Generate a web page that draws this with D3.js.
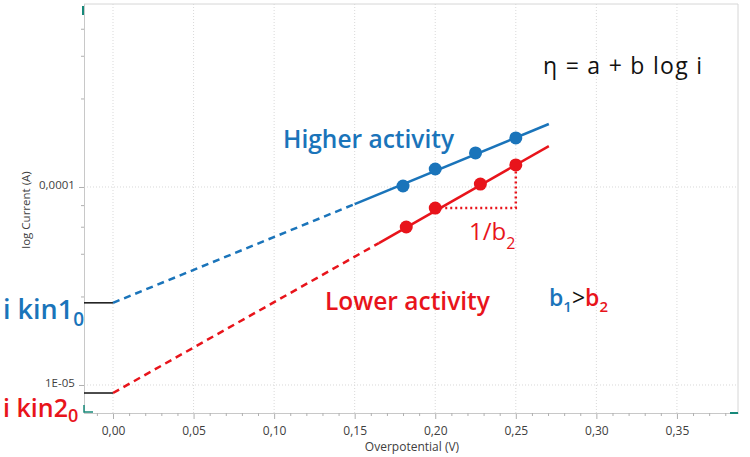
<!DOCTYPE html>
<html><head><meta charset="utf-8">
<script src="https://cdn.jsdelivr.net/npm/d3@7"></script>
<style>
html,body{margin:0;padding:0;background:#fff;}
svg{display:block;}
text{font-family:"Open Sans","Noto Sans",sans-serif;}
</style></head>
<body>
<script>
// ---- data ----
const xTicks = [0, 0.05, 0.10, 0.15, 0.20, 0.25, 0.30, 0.35];
const xTickLabels = ["0,00","0,05","0,10","0,15","0,20","0,25","0,30","0,35"];
const xMinorTicks = [-0.01,0.01,0.02,0.03,0.04,0.06,0.07,0.08,0.09,0.11,0.12,0.13,0.14,0.16,0.17,0.18,0.19,0.21,0.22,0.23,0.24,0.26,0.27,0.28,0.29,0.31,0.32,0.33,0.34,0.36,0.37,0.38];
const yTicks = [1e-5, 1e-4];
const yTickLabels = ["1E-05", "0,0001"];
const yMinorTicks = [2.8e-5, 4.6e-5, 6.3e-5, 8.1e-5, 2.8e-4, 4.6e-4, 6.3e-4];

// Higher activity (blue)
const blueDashedV = [0, 0.15];
const blueDashedI = [2.60e-5, 8.20e-5];
const blueSolidV  = [0.15, 0.2705];
const blueSolidI  = [8.20e-5, 2.08e-4];
const bluePointsV = [0.18, 0.20, 0.225, 0.25];
const bluePointsI = [1.012e-4, 1.233e-4, 1.486e-4, 1.769e-4];

// Lower activity (red)
const redDashedV = [0, 0.165];
const redDashedI = [9.11e-6, 5.21e-5];
const redSolidV  = [0.165, 0.2705];
const redSolidI  = [5.21e-5, 1.61e-4];
const redPointsV = [0.182, 0.20, 0.228, 0.25];
const redPointsI = [6.28e-5, 7.83e-5, 1.035e-4, 1.292e-4];

// slope triangle (dotted)
const triV = [0.20, 0.25, 0.25];
const triI = [7.83e-5, 7.83e-5, 1.292e-4];

// exchange currents (i kin 1_0, i kin 2_0)
const i0Values = [2.60e-5, 9.11e-6];

// ---- layout ----
const W = 750, H = 457;
const L = 84, R = 738, T = 4, B = 413;
const BLUE = "#1a74ba", RED = "#e8141b", TEAL = "#17897a";

const svg = d3.select("body").append("svg").attr("width", W).attr("height", H);
const x = d3.scaleLinear().domain([-0.018, 0.3879]).range([L, R]);
const y = d3.scaleLog().domain([7.22e-6, 8.40e-4]).range([B, T]);

// grid
const grid = svg.append("g");
grid.selectAll("line.vx").data(xTicks).join("line")
  .attr("x1", d => x(d)).attr("x2", d => x(d)).attr("y1", T).attr("y2", B)
  .attr("stroke", "#d9d9d9").attr("stroke-width", 1).attr("stroke-dasharray", "1,2");
grid.selectAll("line.hy").data(yTicks).join("line")
  .attr("x1", L).attr("x2", R).attr("y1", d => y(d)).attr("y2", d => y(d))
  .attr("stroke", "#d9d9d9").attr("stroke-width", 1).attr("stroke-dasharray", "1,2");

// frame (top/right)
svg.append("line").attr("x1", L).attr("x2", R).attr("y1", T).attr("y2", T).attr("stroke", "#d6d6d6");
svg.append("line").attr("x1", R).attr("x2", R).attr("y1", T).attr("y2", B).attr("stroke", "#d6d6d6");

// axes
const xAxis = svg.append("g").attr("transform", `translate(0,${B})`)
  .call(d3.axisBottom(x).tickValues(xTicks).tickFormat((d,i) => xTickLabels[i]).tickSize(6).tickSizeOuter(0));
const xMinor = svg.append("g").attr("transform", `translate(0,${B})`)
  .call(d3.axisBottom(x).tickValues(xMinorTicks).tickFormat("").tickSize(3).tickSizeOuter(0));
const yAxis = svg.append("g").attr("transform", `translate(${L},0)`)
  .call(d3.axisLeft(y).tickValues(yTicks).tickFormat((d,i) => yTickLabels[i]).tickSize(5).tickSizeOuter(0));
const yMinor = svg.append("g").attr("transform", `translate(${L},0)`)
  .call(d3.axisLeft(y).tickValues(yMinorTicks).tickFormat("").tickSize(3).tickSizeOuter(0));
[xAxis, xMinor, yAxis, yMinor].forEach(g => {
  g.select(".domain").attr("stroke", "#c8c8c8");
  g.selectAll(".tick line").attr("stroke", "#b0b0b0");
  g.selectAll(".tick text").attr("fill", "#404040").style("font-size", "12px")
    .style("font-family", "'Open Sans','Noto Sans',sans-serif");
});
xAxis.selectAll(".tick text").attr("dy", "1.1em");
yAxis.selectAll(".tick text").attr("dx", "-0.1em").attr("dy", "0.15em").style("font-size", "11.5px");

// axis titles
svg.append("text").attr("x", 412).attr("y", 451).attr("text-anchor", "middle")
  .attr("fill", "#404040").style("font-size", "12px").text("Overpotential (V)");
svg.append("text").attr("transform", "translate(30,210) rotate(-90)").attr("text-anchor", "middle")
  .attr("fill", "#404040").style("font-size", "11.5px").text("log Current (A)");

// teal cursor marks
svg.append("path").attr("d", `M${L-1},${T+2} L${L-1},${T+11}`).attr("stroke", TEAL).attr("stroke-width", 2).attr("fill", "none");
svg.append("path").attr("d", `M${L},${B-8} L${L},${B-1} L${L+9},${B-1}`).attr("stroke", TEAL).attr("stroke-width", 1.5).attr("fill", "none");
svg.append("path").attr("d", `M${R-8},${B} L${R},${B}`).attr("stroke", TEAL).attr("stroke-width", 2).attr("fill", "none");

// black baseline segments from axis to x=0
svg.selectAll("line.i0").data(i0Values).join("line")
  .attr("x1", L).attr("x2", x(0)).attr("y1", d => y(d)).attr("y2", d => y(d))
  .attr("stroke", "#111").attr("stroke-width", 1.5);

const line = d3.line().x(d => x(d[0])).y(d => y(d[1]));
const zip = (a, b) => a.map((v, i) => [v, b[i]]);

function drawSeries(dv, di, sv, si, pv, pi, color) {
  svg.append("path").attr("d", line(zip(dv, di))).attr("fill", "none")
    .attr("stroke", color).attr("stroke-width", 2.5).attr("stroke-dasharray", "7,5");
  svg.append("path").attr("d", line(zip(sv, si))).attr("fill", "none")
    .attr("stroke", color).attr("stroke-width", 2.5);
  svg.selectAll(null).data(zip(pv, pi)).join("circle")
    .attr("cx", d => x(d[0])).attr("cy", d => y(d[1])).attr("r", 6.5).attr("fill", color);
}
drawSeries(blueDashedV, blueDashedI, blueSolidV, blueSolidI, bluePointsV, bluePointsI, BLUE);
drawSeries(redDashedV, redDashedI, redSolidV, redSolidI, redPointsV, redPointsI, RED);

// slope triangle
svg.append("path").attr("d", line(zip(triV, triI))).attr("fill", "none")
  .attr("stroke", RED).attr("stroke-width", 2.5).attr("stroke-dasharray", "2,3");

// annotations
function subText(xp, yp, main, sub, color, size, subSize, subDy, weight) {
  const t = svg.append("text").attr("x", xp).attr("y", yp).attr("fill", color)
    .style("font-size", size + "px").style("font-weight", weight || 400);
  t.append("tspan").text(main);
  t.append("tspan").attr("dy", subDy).style("font-size", subSize + "px").text(sub);
  return t;
}
svg.append("text").attr("x", 283).attr("y", 148).attr("fill", BLUE)
  .style("font-size", "24.5px").style("font-weight", 600).text("Higher activity");
svg.append("text").attr("x", 325).attr("y", 310).attr("fill", RED)
  .style("font-size", "24.5px").style("font-weight", 600).text("Lower activity");
svg.append("text").attr("x", 543).attr("y", 74).attr("fill", "#111")
  .style("font-size", "23px").style("font-weight", 500)
  .attr("textLength", 159).attr("lengthAdjust", "spacing").text("η = a + b log i");

subText(469, 240, "1/b", "2", RED, 24, 16, 9, 500);

// b1>b2
const bt = svg.append("text").attr("x", 549).attr("y", 306).style("font-size", "23px").style("font-weight", 600);
bt.append("tspan").attr("fill", BLUE).text("b");
bt.append("tspan").attr("fill", BLUE).attr("dy", 6).style("font-size", "15px").text("1");
bt.append("tspan").attr("fill", "#111").attr("dy", -6).style("font-weight", 400).text(">");
bt.append("tspan").attr("fill", RED).text("b");
bt.append("tspan").attr("fill", RED).attr("dy", 6).style("font-size", "15px").text("2");

subText(3, 319, "i kin1", "0", BLUE, 27, 19, 7, 600);
subText(3, 417, "i kin2", "0", RED, 25, 18, 5, 600);
</script>
</body></html>
